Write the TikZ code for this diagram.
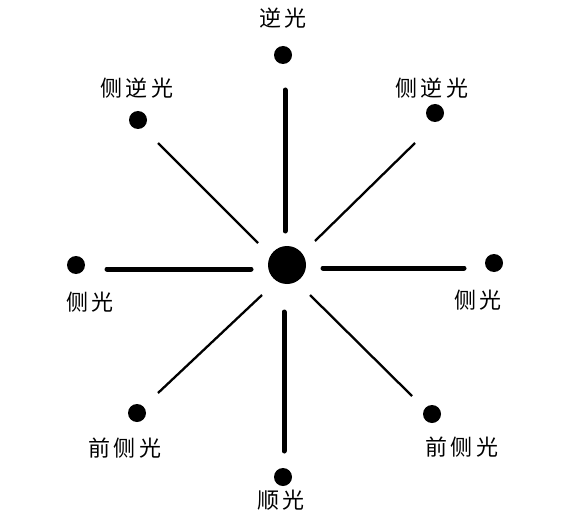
\documentclass[tikz,border=0pt]{standalone}
\usepackage{fontspec}
\newfontfamily\cjk{Noto Sans CJK SC}
\newcommand{\chsp}{\hspace{4pt}}
\begin{document}
\begin{tikzpicture}[x=1pt,y=-1pt,
  dot/.style={circle,fill=black,inner sep=0pt,minimum size=18pt},
  hub/.style={circle,fill=black,inner sep=0pt,minimum size=38pt},
  lbl/.style={font=\cjk\fontsize{22}{22}\selectfont,inner sep=0pt},
  thickline/.style={line width=5pt,line cap=round},
  thinline/.style={line width=2.3pt}]
\useasboundingbox (0,0) rectangle (580,513);
\node[hub] (c) at (287,265) {};
\node[dot] (t) at (283,55) {};
\node[dot] (tl) at (138,120) {};
\node[dot] (tr) at (435,113) {};
\node[dot] (l) at (76,265) {};
\node[dot] (r) at (494,263) {};
\node[dot] (bl) at (137,413) {};
\node[dot] (br) at (432,414) {};
\node[dot] (b) at (283,477) {};
\node[lbl] (lt) at (283,18) {逆\chsp 光};
\node[lbl] (ltl) at (137,88) {侧\chsp 逆\chsp 光};
\node[lbl] (ltr) at (432,88) {侧\chsp 逆\chsp 光};
\node[lbl] (ll) at (90,302) {侧\chsp 光};
\node[lbl] (lr) at (478,300) {侧\chsp 光};
\node[lbl] (lbl) at (125,448) {前\chsp 侧\chsp 光};
\node[lbl] (lbr) at (462,447) {前\chsp 侧\chsp 光};
\node[lbl] (lb) at (281,500) {顺\chsp 光};
\coordinate (t1) at (285,90); \coordinate (t2) at (285,231);
\coordinate (b1) at (284,312); \coordinate (b2) at (284,451);
\coordinate (l1) at (107,269); \coordinate (l2) at (251,269);
\coordinate (r1) at (323,268); \coordinate (r2) at (464,268);
\coordinate (tl1) at (158,143); \coordinate (tl2) at (258,243);
\coordinate (tr1) at (415,143); \coordinate (tr2) at (315,241);
\coordinate (bl1) at (262,295); \coordinate (bl2) at (158,393);
\coordinate (br1) at (310,295); \coordinate (br2) at (412,396);
\draw[thickline] (t1) -- (t2);
\draw[thickline] (b1) -- (b2);
\draw[thickline] (l1) -- (l2);
\draw[thickline] (r1) -- (r2);
\draw[thinline] (tl1) -- (tl2);
\draw[thinline] (tr1) -- (tr2);
\draw[thinline] (bl1) -- (bl2);
\draw[thinline] (br1) -- (br2);
\end{tikzpicture}
\end{document}
